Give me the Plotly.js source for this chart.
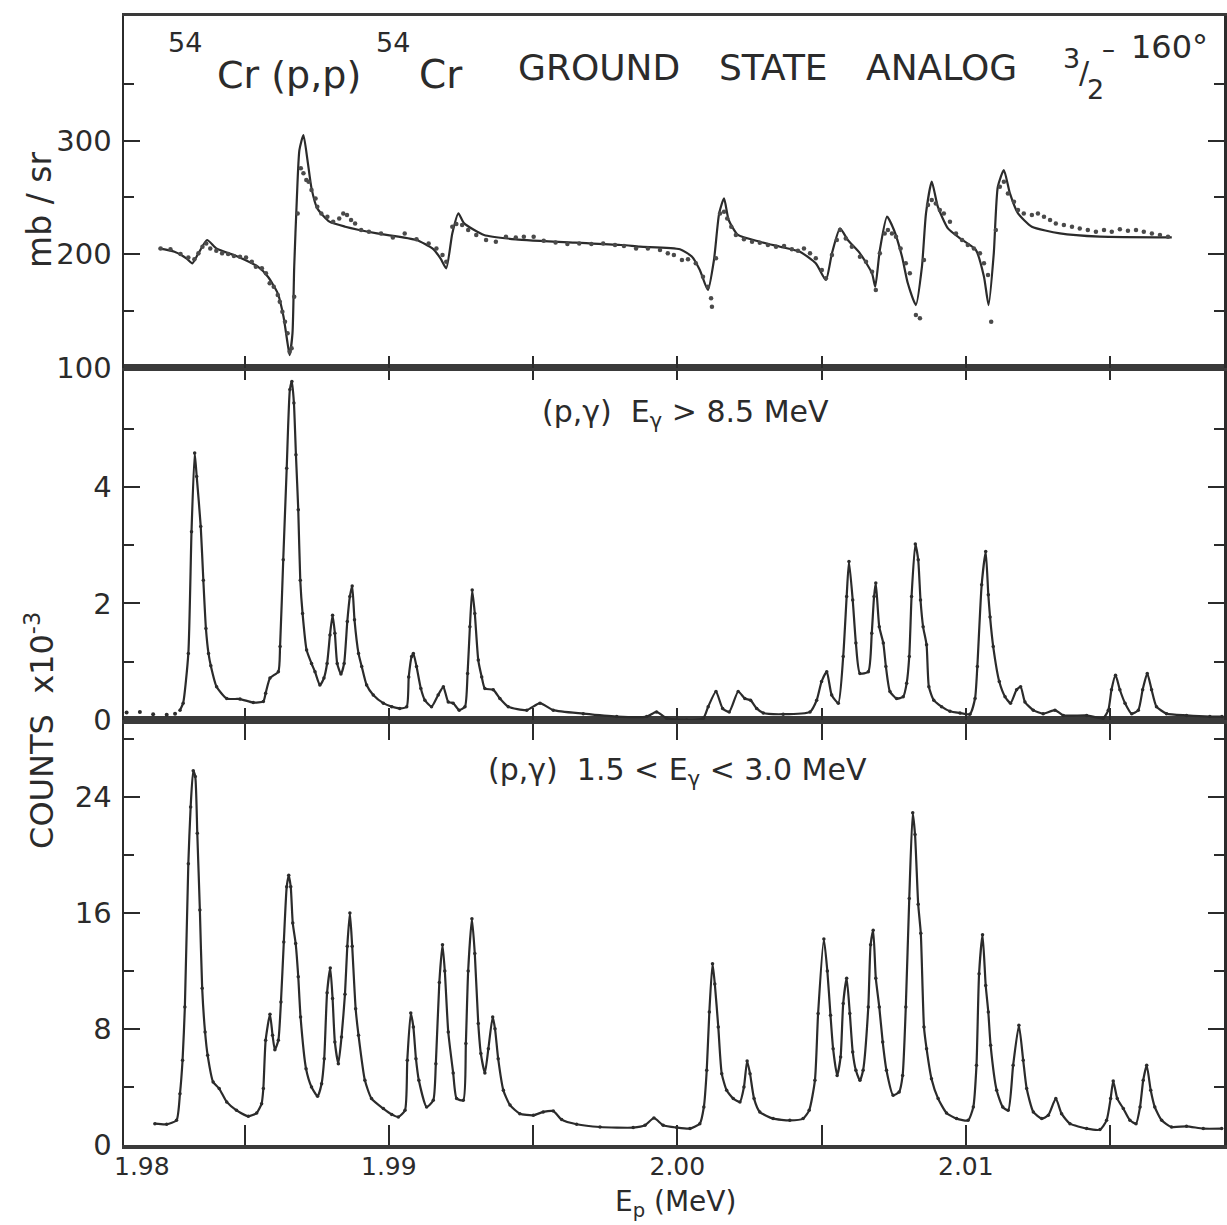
<!DOCTYPE html>
<html>
<head>
<meta charset="utf-8">
<script src="https://cdn.plot.ly/plotly-3.0.1.min.js"></script>
<style>html,body{margin:0;padding:0;background:#fff;}#chart{width:1227px;height:1225px;}</style>
</head>
<body>
<div id="chart"></div>
<script>
// ---------------- DATA (E_p in MeV) ----------------
// Panel 1: 54Cr(p,p) elastic, mb/sr — fitted curve
const p1FitE = [1.98202,1.98257,1.98298,1.98319,1.98340,1.98370,1.98402,1.98477,1.98546,1.98581,1.98615,1.98635,1.98649,1.98656,1.98666,1.98672,1.98681,1.98690,1.98704,1.98718,1.98732,1.98752,1.98794,1.98849,1.98959,1.99096,1.99151,1.99179,1.99199,1.99220,1.99241,1.99261,1.99330,1.99440,1.99646,1.99809,1.99870,2.00009,2.00051,2.00078,2.00106,2.00127,2.00145,2.00162,2.00178,2.00210,2.00286,2.00356,2.00425,2.00480,2.00515,2.00536,2.00564,2.00591,2.00633,2.00675,2.00686,2.00702,2.00727,2.00751,2.00779,2.00799,2.00827,2.00848,2.00862,2.00882,2.00903,2.00938,2.00980,2.01035,2.01063,2.01079,2.01097,2.01111,2.01132,2.01153,2.01181,2.01229,2.01326,2.01465,2.01714];
const p1FitV = [205.2,202.3,196.5,192.1,200.9,212.6,205.2,197.9,189.1,180.3,165.7,145.1,121.7,111.4,130.5,189.1,247.8,291.7,304.9,282.9,258.0,240.4,228.7,224.3,218.4,212.6,205.2,196.5,187.7,218.4,236.0,227.2,217.0,213.2,210.2,208.2,206.7,204.4,197.9,186.2,168.6,195.0,236.0,249.2,230.2,217.0,211.1,206.7,202.3,192.1,177.4,200.9,222.8,212.6,200.9,183.3,171.5,203.8,233.1,221.4,197.9,174.5,155.4,189.1,236.0,263.9,241.9,222.8,214.0,203.8,180.3,155.4,200.9,259.5,274.1,253.6,236.0,224.3,218.4,215.5,214.9];
// Panel 1: measured points
const p1DatE = [1.98209,1.98243,1.98278,1.98305,1.98326,1.98340,1.98354,1.98367,1.98381,1.98402,1.98422,1.98443,1.98463,1.98484,1.98505,1.98525,1.98539,1.98560,1.98574,1.98587,1.98601,1.98615,1.98622,1.98631,1.98640,1.98649,1.98656,1.98663,1.98672,1.98684,1.98695,1.98704,1.98714,1.98722,1.98732,1.98746,1.98752,1.98766,1.98787,1.98807,1.98828,1.98842,1.98855,1.98869,1.98883,1.98904,1.98931,1.98973,1.99014,1.99055,1.99096,1.99138,1.99165,1.99186,1.99199,1.99220,1.99234,1.99254,1.99275,1.99303,1.99337,1.99371,1.99406,1.99440,1.99468,1.99502,1.99537,1.99578,1.99619,1.99660,1.99702,1.99743,1.99784,
1.99815,1.99857,1.99898,1.99940,1.99967,1.99988,2.00016,2.00037,2.00064,2.00089,2.00106,2.00117,2.00120,2.00134,2.00148,2.00162,2.00173,2.00187,2.00203,2.00231,2.00259,2.00286,2.00314,2.00342,2.00370,2.00397,2.00418,2.00439,2.00460,2.00480,2.00501,2.00515,2.00536,2.00553,2.00564,2.00584,2.00605,2.00633,2.00654,2.00675,2.00688,2.00702,2.00719,2.00730,2.00744,2.00758,2.00774,2.00792,2.00806,2.00827,2.00841,2.00855,2.00869,2.00882,2.00896,2.00910,2.00924,2.00945,2.00966,2.00987,2.01007,2.01028,2.01049,2.01063,2.01077,2.01088,2.01104,2.01118,2.01132,2.01146,2.01167,2.01181,2.01201,2.01229,2.01250,2.01271,2.01292,2.01312,2.01340,2.01368,2.01395,2.01423,2.01451,2.01479,2.01506,2.01534,2.01562,2.01590,2.01617,2.01645,2.01673,2.01701];
const p1DatV = [205.2,204.4,200.3,197.3,195.6,200.9,206.7,209.6,205.2,203.2,200.9,200.3,198.5,197.9,197.3,193.5,189.1,187.7,183.3,174.5,171.5,164.2,158.3,149.5,140.8,130.5,114.4,117.3,162.7,236.0,275.6,271.2,265.3,263.9,256.6,249.2,241.9,236.0,233.1,228.7,231.6,236.0,234.6,230.2,227.2,221.4,219.9,218.4,214.9,218.4,213.2,209.6,205.2,199.4,193.5,224.3,226.6,225.8,221.4,217.0,212.6,211.1,215.5,214.9,215.5,215.5,212.0,210.5,209.1,209.6,209.1,209.6,208.2,
207.3,205.2,205.2,203.8,200.9,199.4,195.0,195.6,192.1,180.3,171.5,161.3,153.9,196.5,236.0,237.5,231.6,224.3,217.0,213.2,211.1,210.2,208.2,206.7,207.3,204.4,203.2,205.2,200.9,196.5,186.2,178.9,199.4,212.6,221.4,214.0,206.7,197.9,193.5,184.7,168.6,200.9,218.4,221.4,218.4,215.5,205.2,192.1,183.3,146.6,143.7,195.0,243.4,247.8,244.8,239.0,236.0,228.7,218.4,212.6,208.2,205.2,200.9,192.1,181.8,140.8,221.4,259.5,263.9,253.6,246.3,239.0,236.0,234.6,236.0,233.1,230.2,227.2,225.8,224.3,222.8,221.4,219.9,221.4,219.9,222.0,220.8,221.4,219.9,218.4,217.0,215.5];

// Panel 2: (p,γ) Eγ > 8.5 MeV, counts ×10^3
const p2PreE = [1.98091,1.98137,1.98183,1.98230,1.98259];
const p2PreV = [0.13,0.14,0.10,0.09,0.11];
const p2E = [1.98276,1.98287,1.98305,1.98316,1.98327,1.98334,1.98348,1.98357,1.98366,1.98375,1.98383,1.98403,1.98438,1.98484,1.98530,1.98565,1.98573,1.98588,1.98617,1.98623,1.98634,1.98646,1.98657,1.98664,1.98671,1.98678,1.98686,1.98693,1.98701,1.98715,1.98732,1.98744,1.98761,1.98775,1.98786,1.98796,1.98805,1.98813,1.98821,1.98834,1.98845,1.98856,1.98865,1.98873,1.98881,1.98895,1.98906,1.98923,1.98946,1.98981,1.99010,1.99038,1.99062,1.99069,1.99079,1.99085,1.99096,1.99111,1.99125,1.99148,1.99171,1.99189,1.99206,1.99223,1.99244,1.99264,1.99273,1.99281,1.99289,1.99298,1.99310,1.99322,1.99333,1.99362,1.99385,1.99414,1.99478,1.99524,1.99570,1.99674,1.99790,1.99894,1.99928,1.99963,2.00032,2.00090,2.00107,2.00134,2.00157,2.00180,2.00211,2.00234,2.00254,2.00275,2.00298,2.00367,2.00460,2.00483,2.00500,2.00518,2.00535,2.00558,2.00575,2.00587,2.00595,2.00608,2.00619,2.00633,2.00662,2.00674,2.00682,2.00688,2.00700,2.00714,2.00723,2.00737,2.00760,2.00783,2.00795,2.00804,2.00812,2.00825,2.00835,2.00843,2.00852,2.00864,2.00872,2.00889,2.00916,2.00945,2.00980,2.01014,2.01032,2.01040,2.01055,2.01069,2.01078,2.01084,2.01095,2.01116,2.01136,2.01155,2.01176,2.01190,2.01205,2.01234,2.01268,2.01309,2.01338,2.01419,2.01476,2.01494,2.01505,2.01519,2.01534,2.01552,2.01575,2.01598,2.01613,2.01629,2.01644,2.01661,2.01696,2.01765,2.01846,2.01888];
const p2V = [0.17,0.29,1.14,3.23,4.58,4.18,3.32,2.40,1.57,1.14,0.93,0.57,0.37,0.36,0.30,0.32,0.46,0.72,0.83,1.26,2.75,4.32,5.67,5.81,5.44,4.55,3.61,2.40,1.83,1.20,0.97,0.83,0.60,0.72,0.97,1.46,1.80,1.49,0.97,0.79,0.97,1.69,2.12,2.30,1.72,1.14,0.92,0.60,0.43,0.29,0.23,0.20,0.23,0.74,1.09,1.14,0.92,0.54,0.34,0.23,0.43,0.57,0.31,0.29,0.17,0.23,0.80,1.60,2.23,1.83,1.03,0.74,0.54,0.52,0.37,0.23,0.17,0.29,0.17,0.11,0.06,0.06,0.14,0.03,0.00,0.03,0.23,0.49,0.20,0.14,0.49,0.37,0.34,0.20,0.12,0.10,0.14,0.34,0.66,0.83,0.43,0.29,1.09,2.12,2.72,2.06,1.32,0.80,0.83,1.49,2.12,2.35,1.60,1.32,0.92,0.49,0.37,0.40,0.63,1.09,2.12,3.02,2.75,2.06,1.60,1.29,0.57,0.34,0.23,0.15,0.12,0.10,0.37,0.92,2.32,2.89,2.15,1.77,1.26,0.66,0.40,0.29,0.52,0.57,0.31,0.17,0.11,0.17,0.08,0.08,0.03,0.17,0.52,0.77,0.52,0.29,0.11,0.17,0.52,0.80,0.52,0.23,0.11,0.08,0.06,0.06];

// Panel 3: (p,γ) 1.5 < Eγ < 3.0 MeV, counts ×10^3
const p3E = [1.98189,1.98230,1.98264,1.98276,1.98285,1.98293,1.98305,1.98313,1.98322,1.98329,1.98336,1.98345,1.98353,1.98363,1.98372,1.98391,1.98412,1.98438,1.98472,1.98513,1.98542,1.98559,1.98565,1.98573,1.98588,1.98597,1.98605,1.98617,1.98626,1.98636,1.98646,1.98653,1.98660,1.98667,1.98677,1.98686,1.98694,1.98713,1.98732,1.98753,1.98767,1.98776,1.98786,1.98797,1.98805,1.98813,1.98825,1.98836,1.98848,1.98856,1.98865,1.98873,1.98885,1.98895,1.98917,1.98940,1.98981,1.99010,1.99033,1.99056,1.99064,1.99076,1.99085,1.99094,1.99104,1.99131,1.99154,1.99163,1.99175,1.99186,1.99194,1.99206,1.99223,1.99235,1.99258,1.99267,1.99275,1.99288,1.99298,1.99310,1.99319,1.99333,1.99345,1.99360,1.99368,1.99379,1.99397,1.99420,1.99454,1.99501,1.99535,1.99570,1.99599,1.99651,1.99732,1.99847,1.99888,1.99919,1.99951,1.99998,2.00044,2.00078,2.00092,2.00102,2.00111,2.00122,2.00130,2.00142,2.00154,2.00171,2.00194,2.00217,2.00231,2.00242,2.00252,2.00266,2.00286,2.00332,2.00390,2.00436,2.00457,2.00477,2.00488,2.00508,2.00520,2.00531,2.00540,2.00554,2.00566,2.00575,2.00587,2.00598,2.00608,2.00619,2.00633,2.00644,2.00662,2.00670,2.00679,2.00688,2.00700,2.00712,2.00725,2.00748,2.00769,2.00781,2.00792,2.00804,2.00816,2.00824,2.00835,2.00844,2.00855,2.00864,2.00881,2.00904,2.00933,2.00968,2.01008,2.01026,2.01037,2.01046,2.01058,2.01069,2.01078,2.01086,2.01107,2.01128,2.01147,2.01164,2.01184,2.01199,2.01211,2.01234,2.01263,2.01286,2.01312,2.01332,2.01361,2.01419,2.01465,2.01488,2.01502,2.01511,2.01525,2.01546,2.01569,2.01590,2.01604,2.01615,2.01627,2.01641,2.01655,2.01679,2.01713,2.01765,2.01823,2.01887];
const p3V = [1.47,1.43,1.70,3.54,5.84,9.52,19.4,23.3,25.8,25.4,21.5,16.2,10.8,7.79,6.18,4.34,3.89,2.97,2.39,1.98,2.21,2.85,3.89,7.22,9.01,7.56,6.57,7.22,9.86,14.0,17.8,18.6,17.8,15.3,13.9,11.6,8.83,5.26,4.00,3.36,4.23,5.95,10.5,12.2,10.1,7.10,5.61,7.45,10.4,13.7,16.0,13.7,9.40,7.56,4.46,3.20,2.51,2.11,1.93,2.39,5.84,9.10,8.14,5.95,4.46,2.62,3.08,5.61,11.2,13.8,12.0,7.79,4.97,3.20,3.08,6.99,12.0,15.6,13.2,8.37,6.30,4.97,6.64,8.83,8.02,5.95,3.77,2.75,2.16,2.05,2.28,2.34,1.75,1.43,1.24,1.20,1.36,1.86,1.36,1.20,1.13,1.47,2.62,5.15,9.17,12.5,11.1,8.14,4.92,3.77,3.20,2.97,4.00,5.79,4.92,3.20,2.28,1.82,1.70,1.82,2.39,4.46,9.06,14.2,12.0,8.94,6.64,4.80,6.07,9.75,11.5,9.06,6.41,5.15,4.46,5.15,9.52,13.8,14.8,11.5,9.52,7.10,5.15,3.43,3.66,4.80,9.52,17.0,22.9,21.4,16.6,14.6,8.14,6.64,4.57,3.20,2.21,1.82,1.70,2.62,5.49,11.8,14.5,11.0,9.17,6.87,3.77,2.62,2.39,5.49,8.25,5.84,3.89,2.28,1.82,2.05,3.20,2.16,1.47,1.13,1.06,1.70,3.20,4.41,3.20,2.51,1.70,1.47,2.62,4.46,5.49,3.77,2.62,1.70,1.24,1.29,1.13,1.13];

// Axis ticks / labels
const xRange = [1.98082, 2.01895];
const xTickVals = [1.99, 2.00, 2.01];
const xTickText = ['1.99', '2.00', '2.01'];
const xMinorVals = [1.985, 1.995, 2.005, 2.015];
const xFirstLabel = '1.98';
const xTitle = 'E<sub>p</sub> (MeV)';
const y1TickVals = [100, 200, 300], y1Minor = [150, 250, 350];
const y2TickVals = [0, 2, 4], y2Minor = [1, 3, 5];
const y3TickVals = [0, 8, 16, 24], y3Minor = [4, 12, 20, 28];

// ---------------- STYLE ----------------
const INK = '#2b2b2b';
const FONT = 'DejaVu Sans, Liberation Sans, sans-serif';
const LINE = {color: INK, width: 2.2, shape: 'spline', smoothing: 0.55};

const traces = [
  {x: p1FitE, y: p1FitV, xaxis: 'x3', yaxis: 'y3', mode: 'lines', line: LINE},
  {x: p1DatE, y: p1DatV, xaxis: 'x3', yaxis: 'y3', mode: 'markers', marker: {color: '#4a4a4a', size: 4.5}},
  {x: p2PreE, y: p2PreV, xaxis: 'x2', yaxis: 'y2', mode: 'markers', marker: {color: INK, size: 4}},
  {x: p2E, y: p2V, xaxis: 'x2', yaxis: 'y2', mode: 'lines+markers', line: LINE, marker: {color: INK, size: 3.5}},
  {x: p3E, y: p3V, xaxis: 'x', yaxis: 'y', mode: 'lines+markers', line: LINE, marker: {color: INK, size: 3.5}}
];

function yax(domain, range, tv, minor) {
  return {
    domain: domain, range: range, tickmode: 'array', tickvals: tv, ticktext: tv.map(String),
    ticks: 'inside', ticklen: 16, tickwidth: 2, tickcolor: INK,
    minor: {tickvals: minor, ticks: 'inside', ticklen: 10, tickwidth: 2, tickcolor: INK},
    showline: true, linewidth: 2.5, linecolor: INK, mirror: 'ticks',
    showgrid: false, zeroline: false, ticklabelstandoff: 4,
    tickfont: {family: FONT, size: 29, color: INK}, fixedrange: true
  };
}

function xax(extra, len) {
  return Object.assign({
    range: xRange, tickmode: 'array', tickvals: xTickVals, ticktext: xTickText,
    ticks: 'inside', ticklen: len, tickwidth: 2, tickcolor: INK,
    minor: {tickvals: xMinorVals, ticks: 'inside', ticklen: len, tickwidth: 2, tickcolor: INK},
    showline: true, linecolor: '#3a3a3a', showgrid: false, zeroline: false, fixedrange: true
  }, extra);
}

const layout = {
  width: 1227, height: 1225,
  margin: {l: 124, r: 3, t: 16, b: 80},
  paper_bgcolor: '#ffffff', plot_bgcolor: '#ffffff',
  showlegend: false,
  font: {family: FONT, color: INK},
  xaxis: xax({anchor: 'y', domain: [0, 1], linewidth: 4, mirror: 'ticks', ticklabelstandoff: -4,
    tickfont: {family: FONT, size: 25, color: INK}}, 20),
  xaxis2: xax({anchor: 'y2', matches: 'x', linewidth: 4, mirror: 'ticks', showticklabels: false}, 12),
  xaxis3: xax({anchor: 'y3', matches: 'x', linewidth: 3, mirror: true, showticklabels: false}, 12),
  yaxis: yax([0, 0.3764], [0, 29.3], y3TickVals, y3Minor),
  yaxis2: yax([0.3764, 0.6882], [0, 6.04], y2TickVals, y2Minor),
  yaxis3: yax([0.6882, 1], [100, 409.6], y1TickVals, y1Minor),
  annotations: [
    {text: '54', x: 0.0555, y: 0.9761, font: {size: 27}},
    {text: 'Cr (p,p)', x: 0.150, y: 0.9478, font: {size: 38}},
    {text: '54', x: 0.2445, y: 0.9761, font: {size: 27}},
    {text: 'Cr', x: 0.2882, y: 0.9478, font: {size: 39}},
    {text: 'GROUND', x: 0.4318, y: 0.9548, font: {size: 36}},
    {text: 'STATE', x: 0.5909, y: 0.9548, font: {size: 36}},
    {text: 'ANALOG', x: 0.7436, y: 0.9548, font: {size: 36}},
    {text: '3', x: 0.8610, y: 0.9620, font: {size: 27}},
    {text: '/', x: 0.8735, y: 0.9500, font: {size: 30}},
    {text: '2', x: 0.8830, y: 0.9350, font: {size: 27}},
    {text: '–', x: 0.8950, y: 0.9705, font: {size: 26}},
    {text: '160°', x: 0.950, y: 0.9725, font: {size: 32}},
    {text: '(p,γ)  E<sub>γ</sub> &gt; 8.5 MeV', x: 0.5109, y: 0.6475, font: {size: 30}},
    {text: '(p,γ)  1.5 &lt; E<sub>γ</sub> &lt; 3.0 MeV', x: 0.5036, y: 0.3304, font: {size: 30}},
    {text: 'mb / sr', x: -0.0764, y: 0.8282, textangle: -90, font: {size: 33}},
    {text: 'COUNTS  x10<sup>-3</sup>', x: -0.0764, y: 0.3676, textangle: -90, font: {size: 32}},
    {text: xFirstLabel, x: 0.016, y: -0.019, font: {size: 25}},
    {text: xTitle, x: 0.5015, y: -0.0700, yanchor: 'bottom', font: {size: 28}}
  ].map(a => Object.assign({xref: 'paper', yref: 'paper', showarrow: false, xanchor: 'center', yanchor: 'middle'}, a,
        {font: Object.assign({family: FONT, color: INK}, a.font)}))
};

Plotly.newPlot('chart', traces, layout, {staticPlot: true, displayModeBar: false});
</script>
</body>
</html>
